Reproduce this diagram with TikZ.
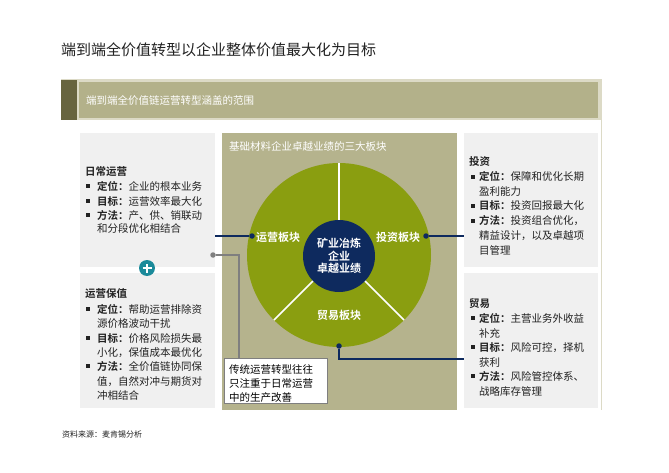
\documentclass[tikz,border=0pt]{standalone}
\usepackage{fontspec}
\setmainfont{Noto Sans CJK SC}[BoldFont={Noto Sans CJK SC Bold}]
\definecolor{olivepanel}{HTML}{B5B38D}
\definecolor{bannerc}{HTML}{B3B18A}
\definecolor{darkstrip}{HTML}{67643F}
\definecolor{framec}{HTML}{DCDAC6}
\definecolor{greenc}{HTML}{8A9E10}
\definecolor{navyc}{HTML}{0E2A5E}
\definecolor{boxgray}{HTML}{F0F0F0}
\definecolor{tealc}{HTML}{1B8A9A}
\definecolor{linegray}{HTML}{7F7F7F}
\definecolor{textc}{HTML}{222222}
\begin{document}
\begin{tikzpicture}[x=1pt,y=-1pt,
  txt/.style={anchor=west, inner sep=0pt, text=textc, font=\fontsize{10.5}{12}\selectfont, text height=9pt, text depth=1pt},
  wtxt/.style={txt, text=white},
  bul/.style={fill=textc, inner sep=0pt, minimum size=3.4pt, rectangle},
  graybox/.style={anchor=north west, fill=boxgray, inner sep=0pt, rectangle},
  seglabel/.style={inner sep=0pt, text=white, font=\fontsize{11}{12}\bfseries\selectfont},
  nline/.style={draw=navyc, line width=1.4pt},
  gline/.style={draw=linegray, line width=1.4pt},
  ndot/.style={circle, fill=navyc, inner sep=0pt, minimum size=5.5pt},
  gdot/.style={circle, fill=linegray, inner sep=0pt, minimum size=5.5pt}]
\useasboundingbox (0,0) rectangle (669,473);
\fill[white] (0,0) rectangle (669,473);

% title
\node[txt, font=\fontsize{15}{17}\selectfont, text height=13pt, text depth=1pt] (title) at (61,50) {端到端全价值转型以企业整体价值最大化为目标};

% frame and banner
\draw[framec, line width=1pt] (61,80) -- (601,80) -- (601,410);
\fill[darkstrip] (61,80) rectangle (77,120);
\fill[framec] (77,80) rectangle (601,120);
\fill[bannerc] (79,82) rectangle (598,118);
\node[wtxt] (bannertext) at (86,101) {端到端全价值链运营转型涵盖的范围};

% gray boxes
\node[graybox, minimum width=135pt, minimum height=134pt] (lb1) at (80,133) {};
\node[graybox, minimum width=135pt, minimum height=135pt] (lb2) at (80,273) {};
\node[graybox, minimum width=134pt, minimum height=134pt] (rb1) at (464,133) {};
\node[graybox, minimum width=134pt, minimum height=135pt] (rb2) at (464,273) {};

% center panel
\fill[olivepanel] (222,133) rectangle (457,410);
\node[wtxt] (paneltitle) at (229,147) {基础材料企业卓越业绩的三大板块};

% circle
\node[circle, fill=greenc, minimum size=184pt, inner sep=0pt] (big) at (339,255) {};
\foreach \a in {-90,135,45}
  \draw[white, line width=1.5pt] ([shift={(\a:34)}]big.center) -- ([shift={(\a:92)}]big.center);
\node[circle, fill=navyc, minimum size=72pt, inner sep=0pt] (core) at (339,256) {};
\node[seglabel, align=center, font=\fontsize{11}{12.5}\bfseries\selectfont] (coretext) at (339,256) {矿业冶炼\\企业\\卓越业绩};
\node[seglabel] (seg1) at (278,237) {运营板块};
\node[seglabel] (seg2) at (398,237) {投资板块};
\node[seglabel] (seg3) at (339,315) {贸易板块};

% connectors
\node[ndot] (dl) at (252,236) {};
\node[ndot] (dr) at (426,236) {};
\node[ndot] (db) at (339,346) {};
\draw[nline] (lb1.east |- dl) -- (dl);
\draw[nline] (dr) -- (rb1.west |- dr);
\coordinate (bc) at (339,359);
\draw[nline] (db) -- (bc) -- (rb2.west |- bc);

% callout
\node[anchor=north west, draw=linegray, line width=0.8pt, fill=white, minimum width=103pt, minimum height=45pt, inner sep=0pt] (co) at (224,358) {};
\node[txt, text=black] (co1) at (229,369) {传统运营转型往往};
\node[txt, text=black] (co2) at (229,383) {只注重于日常运营};
\node[txt, text=black] (co3) at (229,397) {中的生产改善};
\node[gdot] (gd) at (213,255) {};
\coordinate (gc) at (239,255);
\draw[gline] (gd) -- (gc) -- (gc |- co.north);

% plus icon
\node[circle, fill=tealc, minimum size=16pt, inner sep=0pt] (plus) at (147,268) {};
\draw[white, line width=2.4pt] ([xshift=-4.5pt]plus.center) -- ([xshift=4.5pt]plus.center);
\draw[white, line width=2.4pt] ([yshift=-4.5pt]plus.center) -- ([yshift=4.5pt]plus.center);

% left box 1
\node[txt, font=\fontsize{10.5}{12}\bfseries\selectfont] (l1t) at (85,172) {日常运营};
\node[bul] (l1b1) at (88,186) {};
\node[txt] (l1a) at (97,186) {\textbf{定位：}企业的根本业务};
\node[bul] (l1b2) at (88,201) {};
\node[txt] (l1b) at (97,201) {\textbf{目标：}运营效率最大化};
\node[bul] (l1b3) at (88,215) {};
\node[txt] (l1c) at (97,215) {\textbf{方法：}产、供、销联动};
\node[txt] (l1d) at (97,229) {和分段优化相结合};

% left box 2
\node[txt, font=\fontsize{10.5}{12}\bfseries\selectfont] (l2t) at (85,293) {运营保值};
\node[bul] (l2b1) at (88,309) {};
\node[txt] (l2a) at (97,309) {\textbf{定位：}帮助运营排除资};
\node[txt] (l2b) at (97,323) {源价格波动干扰};
\node[bul] (l2b2) at (88,338) {};
\node[txt] (l2c) at (97,338) {\textbf{目标：}价格风险损失最};
\node[txt] (l2d) at (97,352) {小化，保值成本最优化};
\node[bul] (l2b3) at (88,366) {};
\node[txt] (l2e) at (97,366) {\textbf{方法：}全价值链协同保};
\node[txt] (l2f) at (97,381) {值，自然对冲与期货对};
\node[txt] (l2g) at (97,395) {冲相结合};

% right box 1
\node[txt, font=\fontsize{10.5}{12}\bfseries\selectfont] (r1t) at (469,162) {投资};
\node[bul] (r1b1) at (473,177) {};
\node[txt] (r1a) at (479,177) {\textbf{定位：}保障和优化长期};
\node[txt] (r1b) at (479,192) {盈利能力};
\node[bul] (r1b2) at (473,206) {};
\node[txt] (r1c) at (479,206) {\textbf{目标：}投资回报最大化};
\node[bul] (r1b3) at (473,221) {};
\node[txt] (r1d) at (479,221) {\textbf{方法：}投资组合优化，};
\node[txt] (r1e) at (479,235) {精益设计，以及卓越项};
\node[txt] (r1f) at (479,250) {目管理};

% right box 2
\node[txt, font=\fontsize{10.5}{12}\bfseries\selectfont] (r2t) at (469,303) {贸易};
\node[bul] (r2b1) at (473,318) {};
\node[txt] (r2a) at (479,318) {\textbf{定位：}主营业务外收益};
\node[txt] (r2b) at (479,333) {补充};
\node[bul] (r2b2) at (473,347) {};
\node[txt] (r2c) at (479,347) {\textbf{目标：}风险可控，择机};
\node[txt] (r2d) at (479,362) {获利};
\node[bul] (r2b3) at (473,376) {};
\node[txt] (r2e) at (479,376) {\textbf{方法：}风险管控体系、};
\node[txt] (r2f) at (479,391) {战略库存管理};

% footer
\node[txt, font=\fontsize{8}{9}\selectfont, text height=7pt, text depth=1pt] (footer) at (62,434) {资料来源：麦肯锡分析};
\end{tikzpicture}
\end{document}
